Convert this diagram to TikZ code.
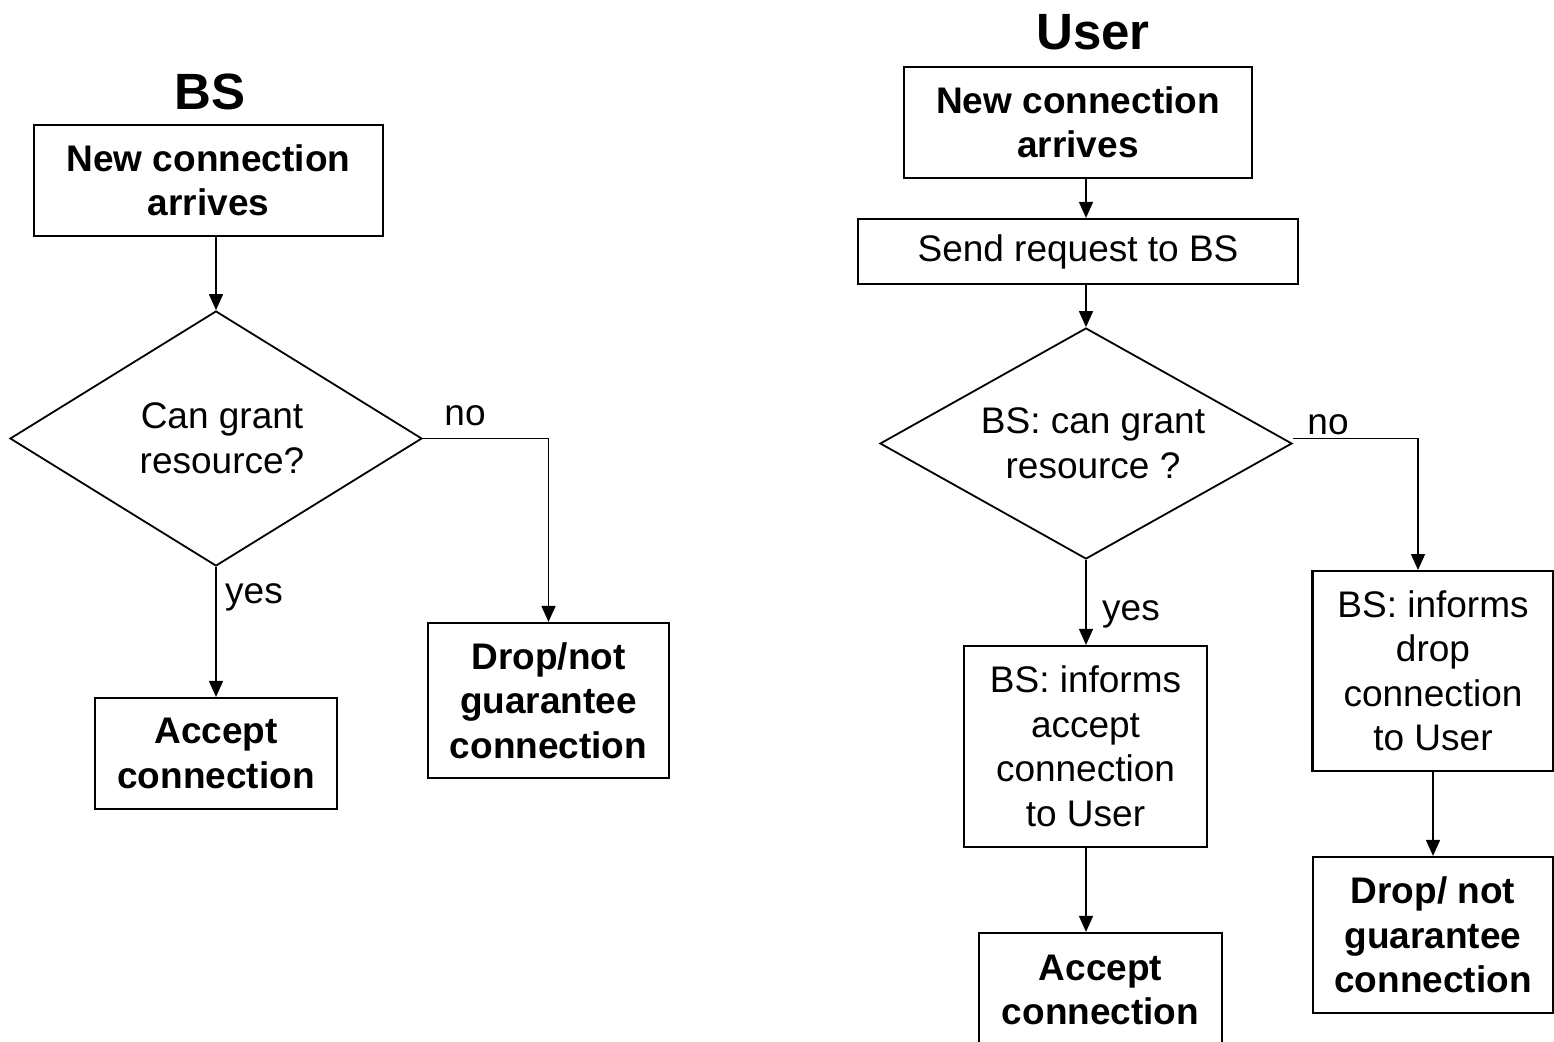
\documentclass[tikz,border=0pt]{standalone}
\usepackage{fontspec}
\setmainfont{Liberation Sans}
\usetikzlibrary{shapes.geometric,arrows.meta}

\tikzset{
  txt/.style={font=\fontsize{37}{44.5}\selectfont, align=center},
  boldtxt/.style={font=\fontsize{37}{44.5}\selectfont\bfseries, align=center},
  title/.style={font=\fontsize{51}{60}\selectfont\bfseries},
  box/.style={draw, line width=2.2pt, rectangle, inner sep=0pt},
  decision/.style={draw, line width=1.8pt, diamond, inner sep=0pt, txt},
  flow/.style={line width=1.6pt, -{Triangle[length=16pt,width=14pt]}},
  lbl/.style={txt, inner sep=0pt},
}

\begin{document}
\begin{tikzpicture}[x=1pt, y=-1pt]
  \useasboundingbox (0,0) rectangle (1554,1041);
  \fill[white] (0,0) rectangle (1554,1041);
  \clip (0,0) rectangle (1554,1041);

  % ---- left chart: base station ----
  \node[title] (bsT) at (210,92) {BS};
  \node[box, boldtxt, minimum width=349pt, minimum height=111pt] (bsNew) at (208.5,180.5)
    {New connection\\arrives};
  \node[decision, aspect=1.615, minimum width=412pt, minimum height=255pt] (bsQ) at (216,438.5)
    {\hspace*{12pt}Can grant\\\hspace*{12pt}resource?};
  \node[box, boldtxt, minimum width=242pt, minimum height=111pt] (bsAcc) at (216,753.5)
    {Accept\\connection};
  \node[box, boldtxt, minimum width=241pt, minimum height=155pt] (bsDrop) at (548.5,700.5)
    {Drop/not\\guarantee\\connection};
  \node[lbl] (bsNo) at (465,416) {no};
  \node[lbl] (bsYes) at (254,597) {yes};

  \draw[flow] (bsNew.south -| bsQ.north) -- (bsQ.north);
  \draw[flow] (bsQ.south) -- (bsQ.south |- bsAcc.north);
  \draw[flow] (bsQ.east) -| (bsDrop.north);

  % ---- right chart: user ----
  \node[title] (usT) at (1093,32) {User};
  \node[box, boldtxt, minimum width=348pt, minimum height=111pt] (usNew) at (1078,122.5)
    {New connection\\arrives};
  \node[box, txt, minimum width=440pt, minimum height=65pt] (usReq) at (1078,251.5)
    {Send request to BS};
  \node[decision, aspect=1.78, minimum width=412pt, minimum height=231pt] (usQ) at (1086,443.5)
    {\hspace*{14pt}BS: can grant\\\hspace*{14pt}resource ?};
  \node[box, txt, minimum width=243pt, minimum height=201pt] (usInfA) at (1085.5,746.5)
    {BS: informs\\accept\\connection\\to User};
  \node[box, boldtxt, minimum width=243pt, minimum height=114pt] (usAcc) at (1100.5,990)
    {Accept\\connection};
  \node[box, txt, minimum width=241pt, minimum height=200pt] (usInfD) at (1433,671)
    {BS: informs\\drop\\connection\\to User};
  \node[box, boldtxt, minimum width=240pt, minimum height=156pt] (usDrop) at (1433,935)
    {Drop/ not\\guarantee\\connection};
  \node[lbl] (usNo) at (1328,425) {no};
  \node[lbl] (usYes) at (1131,614) {yes};
  \coordinate (usNoEnd) at (1418,570);

  \draw[flow] (usQ.north |- usNew.south) -- (usQ.north |- usReq.north);
  \draw[flow] (usQ.north |- usReq.south) -- (usQ.north);
  \draw[flow] (usQ.south) -- (usQ.south |- usInfA.north);
  \draw[flow] ([yshift=5pt]usQ.east) -| (usNoEnd);
  \draw[flow] (usQ.south |- usInfA.south) -- (usQ.south |- usAcc.north);
  \draw[flow] (usInfD.south) -- (usDrop.north);
\end{tikzpicture}
\end{document}
